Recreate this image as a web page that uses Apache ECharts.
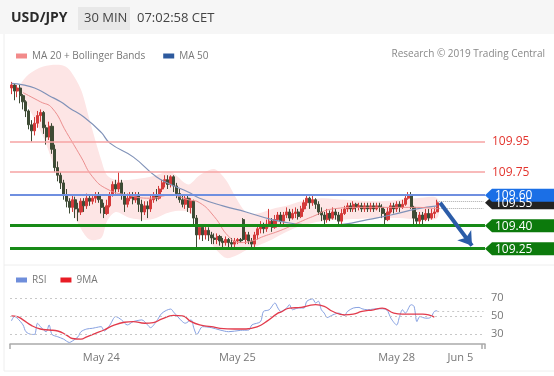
<!DOCTYPE html>
<html>
<head>
<meta charset="utf-8">
<script src="https://cdn.jsdelivr.net/npm/echarts/dist/echarts.min.js"></script>
<style>
  html, body { margin: 0; padding: 0; background: #fff; }
  #chart { width: 554px; height: 376px; }
</style>
</head>
<body>
<div id="chart"></div>
<script>
// USD/JPY 30 min - candles + MA20/Bollinger + MA50, RSI panel below

// candles 0..147, then empty slots to the right for the projection
var opens = [
  110.30,110.32,110.28,110.30,110.25,110.21,110.15,110.06,110.02,110.07,
  110.12,110.14,110.04,109.98,110.05,109.90,109.78,109.73,109.68,109.60,
  109.56,109.52,109.57,109.51,109.49,109.56,109.53,109.58,109.56,109.58,
  109.60,109.57,109.52,109.48,109.53,109.60,109.67,109.64,109.68,109.60,
  109.54,109.58,109.60,109.57,109.60,109.54,109.49,109.53,109.51,109.57,
  109.60,109.58,109.64,109.68,109.70,109.67,109.72,109.66,109.61,109.57,
  109.54,109.58,109.52,109.56,109.45,109.34,109.39,109.34,109.37,109.34,
  109.32,109.31,109.33,109.30,109.29,109.31,109.29,109.28,109.30,109.31,
  109.44,109.31,109.34,109.30,109.28,109.34,109.38,109.40,109.38,109.41,
  109.43,109.39,109.44,109.47,109.43,109.47,109.49,109.45,109.48,109.49,
  109.46,109.51,109.55,109.58,109.55,109.57,109.54,109.49,109.47,109.44,
  109.48,109.45,109.49,109.47,109.43,109.48,109.51,109.53,109.51,109.54,
  109.52,109.53,109.51,109.53,109.51,109.53,109.51,109.53,109.52,109.48,
  109.44,109.49,109.53,109.51,109.54,109.52,109.54,109.58,109.60,109.52,
  109.45,109.43,109.47,109.44,109.48,109.45,109.48,109.49
];
var closes = [
  110.32,110.28,110.30,110.25,110.21,110.15,110.06,110.02,110.07,110.12,
  110.14,110.04,109.98,110.05,109.90,109.78,109.73,109.68,109.60,109.56,
  109.52,109.57,109.51,109.49,109.56,109.53,109.58,109.56,109.58,109.60,
  109.57,109.52,109.48,109.53,109.60,109.67,109.64,109.68,109.60,109.54,
  109.58,109.60,109.57,109.60,109.54,109.49,109.53,109.51,109.57,109.60,
  109.58,109.64,109.68,109.70,109.67,109.72,109.66,109.61,109.57,109.54,
  109.58,109.52,109.56,109.45,109.34,109.39,109.34,109.37,109.34,109.32,
  109.31,109.33,109.30,109.29,109.31,109.29,109.28,109.30,109.31,109.30,
  109.31,109.34,109.30,109.28,109.34,109.38,109.40,109.38,109.41,109.43,
  109.39,109.44,109.47,109.43,109.47,109.49,109.45,109.48,109.49,109.46,
  109.51,109.55,109.58,109.55,109.57,109.54,109.49,109.47,109.44,109.48,
  109.45,109.49,109.47,109.43,109.48,109.51,109.53,109.51,109.54,109.52,
  109.53,109.51,109.53,109.51,109.53,109.51,109.53,109.52,109.48,109.44,
  109.49,109.53,109.51,109.54,109.52,109.54,109.58,109.60,109.52,109.45,
  109.43,109.47,109.44,109.48,109.45,109.48,109.49,109.55
];
var lows = [
  110.26,110.22,110.24,110.20,110.16,110.11,110.03,109.95,109.99,110.04,
  110.08,110.00,109.93,109.96,109.87,109.75,109.69,109.64,109.57,109.52,
  109.48,109.49,109.45,109.43,109.47,109.49,109.51,109.53,109.54,109.55,
  109.55,109.48,109.45,109.47,109.52,109.59,109.61,109.62,109.57,109.49,
  109.52,109.56,109.54,109.55,109.49,109.43,109.47,109.45,109.49,109.55,
  109.56,109.57,109.62,109.65,109.64,109.65,109.62,109.58,109.55,109.52,
  109.51,109.49,109.48,109.41,109.26,109.31,109.30,109.31,109.30,109.28,
  109.28,109.28,109.27,109.26,109.27,109.26,109.26,109.26,109.28,109.29,
  109.30,109.28,109.28,109.26,109.26,109.31,109.35,109.35,109.36,109.39,
  109.36,109.38,109.43,109.41,109.41,109.45,109.43,109.44,109.45,109.44,
  109.45,109.49,109.53,109.51,109.53,109.51,109.47,109.43,109.40,109.42,
  109.43,109.44,109.44,109.40,109.41,109.47,109.49,109.49,109.49,109.49,
  109.50,109.49,109.49,109.49,109.49,109.49,109.50,109.49,109.45,109.41,
  109.43,109.48,109.48,109.49,109.49,109.51,109.53,109.57,109.51,109.40,
  109.40,109.41,109.40,109.43,109.43,109.44,109.45,109.49
];
var highs = [
  110.34,110.33,110.32,110.32,110.26,110.22,110.16,110.09,110.11,110.15,
  110.16,110.15,110.06,110.08,110.07,109.93,109.82,109.75,109.70,109.64,
  109.58,109.60,109.59,109.55,109.58,109.58,109.61,109.60,109.60,109.62,
  109.62,109.60,109.55,109.57,109.62,109.69,109.70,109.75,109.70,109.62,
  109.61,109.62,109.62,109.62,109.62,109.57,109.56,109.56,109.60,109.62,
  109.64,109.66,109.70,109.73,109.73,109.73,109.73,109.68,109.64,109.60,
  109.60,109.60,109.58,109.57,109.47,109.41,109.41,109.40,109.39,109.36,
  109.35,109.35,109.34,109.32,109.33,109.32,109.32,109.32,109.32,109.32,
  109.45,109.36,109.36,109.32,109.36,109.40,109.43,109.42,109.44,109.51,
  109.45,109.47,109.49,109.49,109.49,109.52,109.51,109.51,109.52,109.51,
  109.53,109.57,109.60,109.59,109.60,109.58,109.56,109.52,109.49,109.51,
  109.50,109.52,109.51,109.49,109.51,109.53,109.55,109.55,109.56,109.55,
  109.55,109.55,109.55,109.55,109.55,109.55,109.55,109.55,109.54,109.51,
  109.52,109.55,109.55,109.56,109.56,109.57,109.60,109.62,109.62,109.53,
  109.49,109.49,109.49,109.51,109.51,109.51,109.52,109.57
];

// moving averages as [candle index, price]
var ma50 = [[0,110.33],[4,110.32],[8,110.30],[13,110.25],[17,110.21],[20,110.17],[25,110.11],
  [31,110.01],[34,109.94],[42,109.85],[50,109.72],[55,109.67],[61,109.62],[65,109.58],[73,109.53],
  [81,109.49],[90,109.44],[99,109.41],[107,109.40],[115,109.41],[123,109.44],[131,109.47],
  [140,109.51],[147,109.53]];
var ma20 = [[4,110.27],[10,110.21],[14,110.17],[19,110.01],[24,109.85],[28,109.72],[33,109.64],
  [40,109.60],[48,109.58],[55,109.60],[61,109.57],[65,109.55],[70,109.46],[75,109.33],[79,109.29],
  [83,109.30],[87,109.33],[93,109.37],[99,109.42],[104,109.46],[111,109.51],[120,109.52],
  [130,109.52],[140,109.52],[147,109.51]];

// bollinger bands
var bandAt = [3,6,11,17,20,24,27,31,33,36,41,48,55,61,65,70,74,77,81,85,90,95,100,107,115,127,134,140,147];
var bandUpper = [110.32,110.39,110.44,110.45,110.42,110.29,110.09,109.83,109.73,109.70,109.70,109.72,
  109.75,109.67,109.73,109.77,109.70,109.60,109.49,109.48,109.51,109.53,109.56,109.58,109.57,
  109.56,109.57,109.58,109.58];
var bandLower = [110.28,110.17,109.98,109.67,109.54,109.38,109.31,109.32,109.43,109.49,109.45,109.44,
  109.49,109.49,109.41,109.26,109.19,109.20,109.24,109.27,109.31,109.36,109.40,109.43,109.44,
  109.45,109.45,109.44,109.45];

// RSI and its 9 period MA
var rsi = [[0,44.6],[1,49.4],[2,47.6],[4,40.1],[5,32.6],[7,29.6],[8,29.6],[9,42.0],[10,38.2],[12,32.6],
  [13,40.1],[14,29.6],[16,27.0],[18,24.4],[20,20.7],[21,22.2],[23,27.0],[24,32.6],[26,35.6],[28,36.4],
  [29,37.1],[31,38.2],[32,33.4],[34,40.1],[36,49.4],[38,45.7],[40,40.1],[42,43.8],[43,44.6],[45,45.7],
  [47,40.1],[48,37.1],[50,43.8],[52,53.2],[55,57.7],[56,54.3],[59,43.8],[60,42.0],[62,45.7],[63,36.4],
  [64,29.6],[66,38.2],[69,37.1],[72,34.5],[75,32.6],[79,34.1],[82,34.5],[83,40.1],[86,43.8],[87,55.0],
  [89,56.9],[91,64.4],[92,58.8],[93,55.0],[95,58.8],[96,62.5],[97,56.9],[99,58.8],[101,58.8],[102,66.3],
  [104,68.9],[105,64.4],[106,66.3],[107,56.9],[108,53.2],[109,48.3],[111,51.3],[113,53.2],[115,50.6],
  [116,55.0],[118,58.8],[120,59.5],[121,58.0],[123,56.9],[125,57.7],[127,58.0],[129,57.7],[130,55.0],
  [131,47.6],[133,40.1],[134,49.4],[135,56.9],[136,53.2],[138,62.5],[139,60.7],[140,43.8],[141,49.4],
  [143,47.6],[144,47.6],[145,49.4],[146,55.0],[147,55.8]];
var rsiMa = [[0,50.2],[2,49.4],[4,45.7],[7,39.3],[10,35.6],[13,34.5],[16,33.4],[19,28.9],[21,25.1],
  [24,24.4],[26,27.0],[29,30.8],[32,34.5],[35,39.3],[39,43.1],[42,43.8],[46,42.0],[49,42.7],[52,46.8],
  [56,50.6],[59,50.2],[62,43.8],[65,40.1],[69,38.2],[72,36.4],[77,35.6],[81,35.6],[85,38.2],[88,43.8],
  [92,53.2],[93,54.3],[96,58.8],[100,59.5],[103,61.8],[105,62.5],[108,60.7],[111,55.0],[115,51.3],
  [118,52.1],[121,55.0],[125,56.9],[128,58.8],[132,53.2],[135,52.1],[139,52.1],[142,52.1],[145,50.2],
  [146,48.7]];
var rsiLevels = [30, 50, 70];

// key levels
var resistances = [109.95, 109.75];
var pivot = 109.60;
var lastPrice = 109.55;
var supports = [109.40, 109.25];
var target = 109.27;

var dateTicks = { 31: 'May 24', 78: 'May 25', 133: 'May 28', 155: 'Jun 5' };
var N = 164;

var FONT = "'Open Sans', sans-serif";
var UP = '#d43a3a', DOWN = '#3e4b35';

var cats = [];
for (var i = 0; i < N; i++) cats.push(String(i));
var candles = opens.map(function (o, k) { return [o, closes[k], lows[k], highs[k]]; });
var last = opens.length - 1;

var chart = echarts.init(document.getElementById('chart'));

var levelLines = [];
resistances.forEach(function (v) {
  levelLines.push({
    yAxis: v,
    lineStyle: { color: '#f6a3a3', width: 1.5, type: 'solid' },
    label: { show: true, position: 'end', distance: 7, formatter: v.toFixed(2), color: '#e3352e', fontSize: 12, fontFamily: FONT }
  });
});
levelLines.push({ yAxis: pivot, lineStyle: { color: '#6f8fe0', width: 2, type: 'solid' }, label: { show: false } });
supports.forEach(function (v) {
  levelLines.push({ yAxis: v, lineStyle: { color: '#178a17', width: 3, type: 'solid' }, label: { show: false } });
});
levelLines.push([
  { coord: [last, lastPrice + 0.008], lineStyle: { color: '#aaa', width: 1, type: 'dotted' }, label: { show: false } },
  { coord: [N - 1, lastPrice + 0.008] }
]);
levelLines.push([
  { coord: [last, lastPrice - 0.038], lineStyle: { color: '#aaa', width: 1, type: 'dotted' }, label: { show: false } },
  { coord: [N - 1, lastPrice - 0.038] }
]);
// projection arrow
levelLines.push([
  { coord: [last + 1, lastPrice], symbol: 'none', lineStyle: { color: '#2b5ca8', width: 4, type: 'solid' }, label: { show: false } },
  { coord: [last + 12, target], symbol: 'arrow', symbolSize: [13, 13] }
]);

var rsiLines = rsiLevels.map(function (v) {
  return {
    yAxis: v,
    lineStyle: { color: '#c8c8c8', width: 1, type: [2, 3] },
    label: { show: true, position: 'end', distance: 6, formatter: String(v), color: '#777', fontSize: 11, fontFamily: FONT }
  };
});
rsiLines.push([
  { coord: [last, rsi[rsi.length - 1][1]], lineStyle: { color: '#c8c8c8', width: 1, type: [2, 3] }, label: { show: false } },
  { coord: [N - 1, rsi[rsi.length - 1][1]] }
]);

var option = {
  animation: false,
  textStyle: { fontFamily: FONT },
  legend: [
    {
      left: 11, top: 46, icon: 'rect', itemWidth: 11, itemHeight: 5, itemGap: 18,
      textStyle: { fontSize: 10, color: '#777', fontFamily: FONT },
      data: [
        { name: 'MA 20 + Bollinger Bands', itemStyle: { color: '#f28a8a' } },
        { name: 'MA 50', itemStyle: { color: '#2d5a9e' } }
      ]
    },
    {
      left: 11, top: 270, icon: 'rect', itemWidth: 11, itemHeight: 5, itemGap: 14,
      textStyle: { fontSize: 10, color: '#777', fontFamily: FONT },
      data: [
        { name: 'RSI', itemStyle: { color: '#6f8edb' } },
        { name: '9MA', itemStyle: { color: '#e81c25' } }
      ]
    }
  ],
  grid: [
    { left: 10, right: 69, top: 62, height: 197.4 },
    { left: 10, right: 69, top: 288, height: 56 }
  ],
  xAxis: [
    { type: 'category', gridIndex: 0, data: cats, show: false },
    {
      type: 'category', gridIndex: 1, data: cats,
      axisLine: { lineStyle: { color: '#aaa', width: 1.5 } },
      axisTick: { show: true, length: 5, interval: function (idx) { return idx === 0 || idx === N - 1; }, lineStyle: { color: '#aaa', width: 1.5 } },
      axisLabel: {
        interval: 0, margin: 8, color: '#777', fontSize: 11, fontFamily: FONT,
        formatter: function (v, idx) { return dateTicks[idx] || ''; }
      }
    }
  ],
  yAxis: [
    { type: 'value', gridIndex: 0, min: 109.18, max: 110.47, show: false },
    { type: 'value', gridIndex: 1, min: 19, max: 81, show: false }
  ],
  series: [
    {
      type: 'custom', name: 'band', xAxisIndex: 0, yAxisIndex: 0, z: 1, silent: true,
      data: [[bandAt[0], bandUpper[0]]],
      renderItem: function (params, api) {
        var pts = [];
        for (var k = 0; k < bandAt.length; k++) pts.push(api.coord([bandAt[k], bandUpper[k]]));
        for (var j = bandAt.length - 1; j >= 0; j--) pts.push(api.coord([bandAt[j], bandLower[j]]));
        return { type: 'polygon', shape: { points: pts, smooth: 0.3 }, style: { fill: '#fde5e5' } };
      }
    },
    {
      type: 'candlestick', name: 'USD/JPY', xAxisIndex: 0, yAxisIndex: 0, z: 3,
      barWidth: 2.6,
      data: candles,
      itemStyle: { color: UP, color0: DOWN, borderColor: UP, borderColor0: DOWN, borderWidth: 1 },
      markLine: { silent: true, symbol: 'none', animation: false, data: levelLines }
    },
    {
      type: 'line', name: 'MA 50', xAxisIndex: 0, yAxisIndex: 0, z: 4,
      data: ma50, showSymbol: false, smooth: true,
      itemStyle: { color: '#2d5a9e' },
      lineStyle: { color: '#8092b8', width: 1.2 }
    },
    {
      type: 'line', name: 'MA 20 + Bollinger Bands', xAxisIndex: 0, yAxisIndex: 0, z: 4,
      data: ma20, showSymbol: false, smooth: true,
      itemStyle: { color: '#f28a8a' },
      lineStyle: { color: '#ec8f8f', width: 1 }
    },
    {
      type: 'line', name: 'RSI', xAxisIndex: 1, yAxisIndex: 1, z: 3,
      data: rsi, showSymbol: false, smooth: 0.3,
      itemStyle: { color: '#6f8edb' },
      lineStyle: { color: '#86a0e0', width: 1 },
      markLine: { silent: true, symbol: 'none', animation: false, data: rsiLines }
    },
    {
      type: 'line', name: '9MA', xAxisIndex: 1, yAxisIndex: 1, z: 4,
      data: rsiMa, showSymbol: false, smooth: true,
      itemStyle: { color: '#e81c25' },
      lineStyle: { color: '#e23b4c', width: 1.3 }
    }
  ],
  graphic: [
    { type: 'rect', id: 'head', shape: { x: 0, y: 0, width: 554, height: 34 }, style: { fill: '#f6f6f6' }, z: 0 },
    { type: 'rect', id: 'tfbox', shape: { x: 78, y: 7, width: 52, height: 23 }, style: { fill: '#e8e8e8' }, z: 1 },
    { type: 'text', id: 'sym', x: 11, y: 18, style: { text: 'USD/JPY', fill: '#2b2b2b', font: "bold 14px 'Open Sans'", textVerticalAlign: 'middle' }, z: 2 },
    { type: 'text', id: 'tf', x: 84, y: 18, style: { text: '30 MIN', fill: '#444', font: "13px 'Open Sans'", textVerticalAlign: 'middle' }, z: 2 },
    { type: 'text', id: 'time', x: 137, y: 18, style: { text: '07:02:58 CET', fill: '#444', font: "13px 'Open Sans'", textVerticalAlign: 'middle' }, z: 2 },
    { type: 'text', id: 'copy', x: 545, y: 54, style: { text: 'Research \u00a9 2019 Trading Central', fill: '#888', font: "10px 'Open Sans'", textAlign: 'right', textVerticalAlign: 'middle' }, z: 2 },
    { type: 'line', id: 'sep1', shape: { x1: 4, y1: 265, x2: 554, y2: 265 }, style: { stroke: '#eeeeee', lineWidth: 1 } },
    { type: 'line', id: 'sep2', shape: { x1: 4, y1: 371, x2: 554, y2: 371 }, style: { stroke: '#eeeeee', lineWidth: 1 } },
    { type: 'line', id: 'sepv', shape: { x1: 4, y1: 34, x2: 4, y2: 371 }, style: { stroke: '#eeeeee', lineWidth: 1 } }
  ]
};
chart.setOption(option);

// price tags at the right edge, placed through the price axis
var TAG_L = 485, TAG_R = 554, TAG_H = 13;
function tag(id, value, fill) {
  var y = chart.convertToPixel({ yAxisIndex: 0 }, value);
  return [
    {
      type: 'polygon', id: id + 'b', z: 10,
      shape: { points: [[TAG_L, y], [TAG_L + 7, y - TAG_H / 2], [TAG_R, y - TAG_H / 2], [TAG_R, y + TAG_H / 2], [TAG_L + 7, y + TAG_H / 2]] },
      style: { fill: fill }
    },
    {
      type: 'text', id: id + 't', z: 11, x: TAG_L + 10, y: y + 0.5,
      style: { text: value.toFixed(2), fill: '#fff', font: "12px 'Open Sans'", textVerticalAlign: 'middle' }
    }
  ];
}
var tags = [].concat(
  tag('last', lastPrice, '#222222'),
  tag('piv', pivot, '#1b6fe6'),
  tag('s1', supports[0], '#0c7a0c'),
  tag('s2', supports[1], '#0c7a0c')
);
chart.setOption({ graphic: tags });
</script>
</body>
</html>
